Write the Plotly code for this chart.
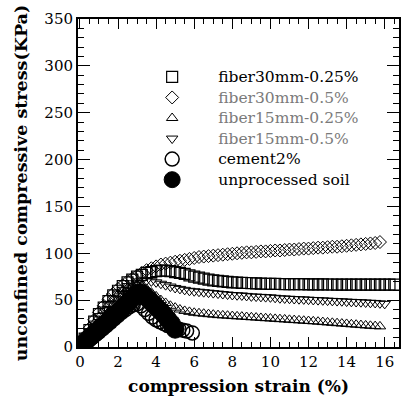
import plotly.graph_objects as go

# strain grid (%) shared by the fiber series
strain_fiber = [0, 0.25, 0.5, 0.75, 1, 1.25, 1.5, 1.75, 2, 2.25, 2.5, 2.75, 3, 3.25, 3.5, 3.75,
                4, 4.25, 4.5, 4.75, 5, 5.25, 5.5, 5.75, 6, 6.25, 6.5, 6.75, 7, 7.25, 7.5, 7.75,
                8, 8.25, 8.5, 8.75, 9, 9.25, 9.5, 9.75, 10, 10.25, 10.5, 10.75, 11, 11.25, 11.5, 11.75,
                12, 12.25, 12.5, 12.75, 13, 13.25, 13.5, 13.75, 14, 14.25, 14.5, 14.75, 15, 15.25, 15.5, 15.75,
                16, 16.25, 16.5]

# unconfined compressive stress (kPa)
fiber30_025 = [0, 9, 18, 27, 35, 42, 49, 55, 60, 65, 69, 72, 75, 77, 79, 80,
               81, 81.5, 81.5, 81, 80, 79, 78, 76.5, 75, 74, 73, 72, 71, 70.5, 70, 69.5,
               69, 68.8, 68.5, 68.3, 68, 67.8, 67.6, 67.5, 67.4, 67.3, 67.2, 67.1, 67, 67, 67, 67,
               66.9, 66.9, 66.8, 66.8, 66.7, 66.7, 66.6, 66.6, 66.6, 66.5, 66.5, 66.5, 66.5, 66.5, 66.5, 66.5,
               66.5, 66.5, 66.5]

fiber30_05 = [0, 10, 20, 29, 37, 44, 51, 57, 62, 66, 70, 73, 76, 79, 82, 84,
              86, 88, 89, 90, 91, 92, 93, 94, 95, 96, 96.5, 97, 97.5, 98, 98.5, 99,
              99.5, 100, 100.5, 101, 101, 101.5, 102, 102, 102.5, 103, 103, 103.5, 104, 104, 104.5, 105,
              105, 105.5, 106, 106, 106.5, 107, 107, 107.5, 108, 108.5, 109, 109.5, 110, 110.5, 111, 112]

fiber15_025 = [0, 9, 17, 25, 32, 39, 45, 51, 56, 60, 63, 65, 66, 65, 62, 58,
               54, 50, 47, 44, 42, 40, 38.5, 37.5, 36.5, 36, 35.5, 35, 34.5, 34, 33.7, 33.4,
               33, 32.7, 32.4, 32, 31.7, 31.4, 31, 30.7, 30.4, 30, 29.7, 29.4, 29, 28.7, 28.4, 28,
               27.7, 27.4, 27, 26.6, 26.2, 25.8, 25.4, 25, 24.6, 24.2, 23.8, 23.4, 23, 22.6, 22.3, 22]

fiber15_05 = [0, 9, 17, 25, 33, 40, 46, 52, 57, 61, 65, 68, 70, 71, 71, 70,
              69, 67.5, 66, 64.5, 63, 62, 61, 60, 59.5, 59, 58.5, 58, 57.5, 57, 56.5, 56,
              55.5, 55.2, 55, 54.5, 54, 53.8, 53.5, 53.2, 53, 52.5, 52, 51.8, 51.5, 51.2, 51, 50.8,
              50.5, 50.2, 50, 49.8, 49.5, 49.2, 49, 48.8, 48.5, 48.2, 48, 47.8, 47.5, 47.2, 47, 46.6,
              46]

strain_cement = [0, 0.2, 0.4, 0.6, 0.8, 1, 1.2, 1.4, 1.6, 1.8, 2, 2.2, 2.4, 2.6, 2.8, 3,
                 3.2, 3.4, 3.6, 3.8, 4, 4.2, 4.4, 4.6, 4.8, 5, 5.2, 5.4, 5.6, 5.9]
cement2 = [0, 3, 6, 9.5, 13, 16, 19.5, 23, 26.5, 30, 33.5, 37, 40, 43, 45, 46,
           44, 40, 36, 32, 29, 27, 25, 23, 21.5, 20, 19, 18, 17, 15]

strain_soil = [0, 0.2, 0.4, 0.6, 0.8, 1, 1.2, 1.4, 1.6, 1.8, 2, 2.2, 2.4, 2.6, 2.8, 3,
               3.2, 3.4, 3.6, 3.8, 4, 4.2, 4.4, 4.6, 4.8, 5]
soil = [0, 4, 8, 11.5, 15, 19, 22.5, 26, 30, 33.5, 37, 41, 45, 49, 53, 57,
        58, 55, 51, 47, 43, 39, 35, 30, 25, 19]

SERIF = "DejaVu Serif"
DARK_TXT = "<span style='font-size:15.5px'>{}</span>"
GREY_TXT = "<span style='font-size:15.5px;color:#7a7a7a'>{}</span>"

series = [
    (DARK_TXT.format("fiber30mm-0.25%"), strain_fiber[:len(fiber30_025)], fiber30_025, "square-open", 11, 1.2),
    (GREY_TXT.format("fiber30mm-0.5%"), strain_fiber[:len(fiber30_05)], fiber30_05, "diamond-open", 10, 1.0),
    (GREY_TXT.format("fiber15mm-0.25%"), strain_fiber[:len(fiber15_025)], fiber15_025, "triangle-up-open", 10, 1.0),
    (GREY_TXT.format("fiber15mm-0.5%"), strain_fiber[:len(fiber15_05)], fiber15_05, "triangle-down-open", 10, 1.0),
    (DARK_TXT.format("cement2%"), strain_cement, cement2, "circle-open", 14, 1.5),
    (DARK_TXT.format("unprocessed soil"), strain_soil, soil, "circle", 18, 1.0),
]

fig = go.Figure()
for name, xs, ys, sym, size, lw in series:
    fig.add_trace(go.Scatter(
        x=xs, y=ys, name=name, mode="markers",
        marker=dict(symbol=sym, size=size, color="black",
                    line=dict(color="black", width=lw)),
    ))

axis_common = dict(
    showline=True, linecolor="black", linewidth=2, mirror="allticks",
    ticks="inside", tickcolor="black", tickwidth=1.2,
    showgrid=False, zeroline=False,
    tickfont=dict(family=SERIF, size=15, color="black"),
)

fig.update_xaxes(
    range=[-0.1, 16.75], dtick=2, tick0=0, ticklen=10,
    minor=dict(dtick=0.5, ticklen=5, ticks="inside", tickcolor="black", tickwidth=1),
    title=dict(text="<b>compression strain (%)</b>", font=dict(family=SERIF, size=17, color="black"),
               standoff=10),
    **axis_common,
)
fig.update_yaxes(
    range=[0, 350], dtick=50, tick0=0, ticklen=12,
    minor=dict(dtick=10, ticklen=6, ticks="inside", tickcolor="black", tickwidth=1),
    title=dict(text="<b>unconfined compressive stress(KPa)</b>", font=dict(family=SERIF, size=17.5, color="black"),
               standoff=12),
    **axis_common,
)

fig.update_layout(
    width=403, height=403,
    margin=dict(l=78, r=4, t=19, b=56, autoexpand=False),
    paper_bgcolor="white", plot_bgcolor="white",
    legend=dict(
        x=0.15, y=0.87, xanchor="left", yanchor="top",
        bgcolor="rgba(0,0,0,0)", borderwidth=0, itemwidth=82,
        font=dict(family=SERIF, size=13.5, color="black"),
        tracegroupgap=0,
    ),
)

fig.write_html("out.html")
